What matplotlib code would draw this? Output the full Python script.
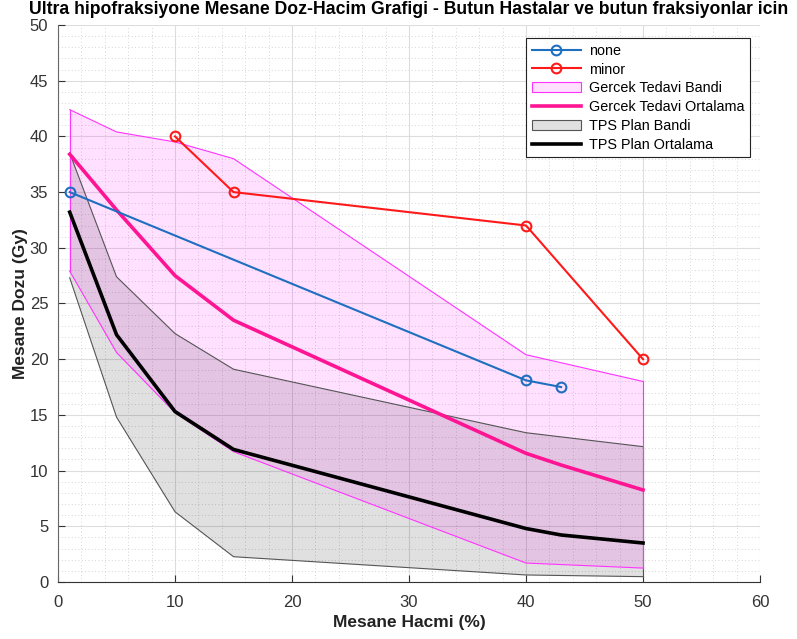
import numpy as np
import matplotlib.pyplot as plt
from matplotlib.ticker import MultipleLocator
from matplotlib.patches import Patch
from matplotlib.lines import Line2D

plt.rcParams['font.family'] = ['Liberation Sans', 'DejaVu Sans']

# Hasta gruplari
none_x = [1, 40, 43]
none_y = [35.0, 18.1, 17.5]
minor_x = [10, 15, 40, 50]
minor_y = [40.0, 35.0, 32.0, 20.0]

# Bant hacim noktalari (%)
band_x = [1, 5, 10, 15, 40, 50]
gercek_ust = [42.4, 40.4, 39.5, 38.0, 20.4, 18.0]
gercek_alt = [27.9, 20.6, 15.2, 11.7, 1.7, 1.25]
tps_ust = [38.5, 27.4, 22.3, 19.1, 13.4, 12.15]
tps_alt = [27.3, 14.8, 6.3, 2.27, 0.63, 0.48]

# Ortalama egrileri
mean_x = [1, 5, 10, 15, 40, 43, 50]
gercek_ort = [38.4, 33.4, 27.5, 23.5, 11.55, 10.5, 8.26]
tps_ort = [33.2, 22.2, 15.3, 11.9, 4.8, 4.22, 3.5]

fig = plt.figure(figsize=(7.97, 6.39), dpi=100)
ax = fig.add_axes([0.0728, 0.0892, 0.8808, 0.8717])

ax.fill_between(band_x, tps_alt, tps_ust, facecolor='black', alpha=0.12, lw=0)
ax.plot(band_x, tps_ust, color='#555555', lw=0.8)
ax.plot(band_x, tps_alt, color='#555555', lw=0.8)
ax.plot([50, 50], [tps_alt[-1], tps_ust[-1]], color='#555555', lw=0.8)

ax.fill_between(band_x, gercek_alt, gercek_ust, facecolor='magenta', alpha=0.12, lw=0)
ax.plot(band_x, gercek_ust, color='#ff33ff', lw=0.8)
ax.plot(band_x, gercek_alt, color='#ff33ff', lw=0.8)
ax.plot([1, 1], [gercek_alt[0], gercek_ust[0]], color='#ff33ff', lw=0.8)
ax.plot([50, 50], [gercek_alt[-1], gercek_ust[-1]], color='#ff33ff', lw=0.8)

ax.plot(mean_x, gercek_ort, color='#ff1493', lw=2.6, solid_joinstyle='round')
ax.plot(mean_x, tps_ort, color='black', lw=2.6, solid_joinstyle='round')

ax.plot(none_x, none_y, '-o', color='#1f6fc0', lw=1.5, ms=7, mfc='none', mew=1.5)
ax.plot(minor_x, minor_y, '-o', color='#ff1a1a', lw=1.5, ms=7, mfc='none', mew=1.5)

ax.set_xlim(0, 60)
ax.set_ylim(0, 50)
ax.xaxis.set_major_locator(MultipleLocator(10))
ax.yaxis.set_major_locator(MultipleLocator(5))
ax.xaxis.set_minor_locator(MultipleLocator(2))
ax.yaxis.set_minor_locator(MultipleLocator(1))
ax.grid(which='major', color='#dddddd', lw=0.8)
ax.grid(which='minor', color='#c8c8c8', lw=0.6, linestyle=(0, (1, 3)))
ax.set_axisbelow(True)
for s in ['top', 'right']:
    ax.spines[s].set_visible(False)
ax.spines['left'].set_color('#666666')
ax.spines['bottom'].set_color('#333333')
ax.tick_params(which='major', direction='in', length=5, labelsize=12, colors='#333333')
ax.tick_params(axis='y', pad=7)
ax.tick_params(axis='x', pad=9)
ax.tick_params(which='minor', length=0)

ax.set_xlabel('Mesane Hacmi (%)', fontsize=12.5, fontweight='bold', color='#222222', labelpad=4)
ax.set_ylabel('Mesane Dozu (Gy)', fontsize=12.5, fontweight='bold', color='#222222', labelpad=1)
fig.text(0.513, 0.985, 'Ultra hipofraksiyone Mesane Doz-Hacim Grafigi - Butun Hastalar ve butun fraksiyonlar icin',
         fontsize=12.7, fontweight='bold', ha='center', va='center')

handles = [
    Line2D([], [], color='#1f6fc0', lw=1.5, marker='o', ms=7, mfc='none', mew=1.5),
    Line2D([], [], color='#ff1a1a', lw=1.5, marker='o', ms=7, mfc='none', mew=1.5),
    Patch(facecolor='#ffe0ff', edgecolor='#ff33ff', lw=0.8),
    Line2D([], [], color='#ff1493', lw=2.6),
    Patch(facecolor='#e0e0e0', edgecolor='#555555', lw=0.8),
    Line2D([], [], color='black', lw=2.6),
]
labels = ['none', 'minor', 'Gercek Tedavi Bandi', 'Gercek Tedavi Ortalama',
          'TPS Plan Bandi', 'TPS Plan Ortalama']
leg = ax.legend(handles, labels, loc='upper right', bbox_to_anchor=(0.9858, 0.9767),
                borderaxespad=0, fontsize=10.4, fancybox=False, framealpha=1,
                edgecolor='#222222', handlelength=3.4, labelspacing=0.33,
                borderpad=0.4, handletextpad=0.55)
leg.get_frame().set_linewidth(0.8)

fig.savefig('out.png', dpi=100)
